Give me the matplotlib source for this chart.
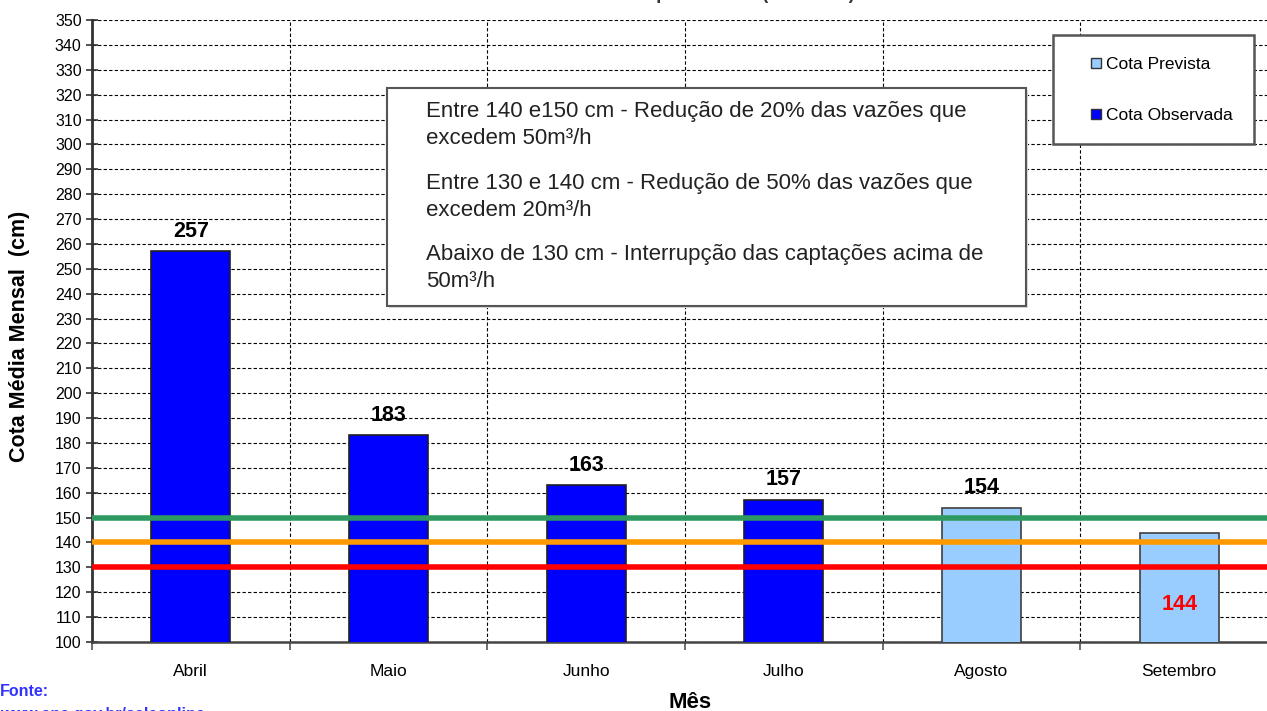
import matplotlib.pyplot as plt
from matplotlib.patches import Rectangle
from matplotlib.lines import Line2D

plt.rcParams['font.family'] = ['Liberation Sans', 'DejaVu Sans']

# dados
meses = ['Abril', 'Maio', 'Junho', 'Julho', 'Agosto', 'Setembro']
cota = [257, 183, 163, 157, 154, 144]
observada = [True, True, True, True, False, False]
limites = [150, 140, 130]
cores_limites = ['#2E9A62', '#FF9900', '#FF0000']
regras = [
    "Entre 140 e150 cm - Redução de 20% das vazões que\nexcedem 50m³/h",
    "Entre 130 e 140 cm - Redução de 50% das vazões que\nexcedem 20m³/h",
    "Abaixo de 130 cm - Interrupção das captações acima de\n50m³/h",
]

fig = plt.figure(figsize=(12.67, 7.11), dpi=100)
ax = fig.add_axes([92 / 1267, 1 - 642 / 711, (1278 - 92) / 1267, (642 - 20) / 711])

x = range(len(meses))
cor = ['#0000FF' if o else '#99CCFF' for o in observada]
borda = ['#202020' if o else '#404040' for o in observada]
ax.bar(x, cota, width=0.4, color=cor, edgecolor=borda, linewidth=1.2, zorder=3)

for yv, c in zip(limites, cores_limites):
    ax.axhline(yv, color=c, linewidth=4, zorder=4)

for i, v in enumerate(cota):
    if v < 150:
        ax.text(i, 115, str(v), color='#FF0000', fontsize=15.5, fontweight='bold',
                ha='center', va='center', zorder=5)
    else:
        ax.annotate(str(v), (i, v), xytext=(0, 7), textcoords='offset points',
                    ha='center', va='bottom', fontsize=15.5, fontweight='bold', zorder=5)

ax.set_xlim(-0.5, len(meses) - 0.5)
ax.set_ylim(100, 350)
ax.set_yticks(range(100, 351, 10))
ax.set_xticks(x)
ax.set_xticklabels(meses, fontsize=12.5)
ax.set_xticks([i - 0.5 for i in range(len(meses) + 1)], minor=True)
ax.tick_params(axis='y', labelsize=11.5, direction='inout', length=8, width=1.2, colors='#333333',
               labelcolor='black')
ax.tick_params(axis='x', which='major', length=0, pad=16)
ax.tick_params(axis='x', which='minor', direction='out', length=6, width=1.2, colors='#555555')

ax.grid(True, axis='y', linestyle=(0, (3, 2)), color='black', linewidth=0.8, zorder=0)
ax.grid(True, axis='x', which='minor', linestyle=(0, (3, 2)), color='black', linewidth=0.8, zorder=0)
ax.set_axisbelow(True)
for s in ['top', 'right']:
    ax.spines[s].set_visible(False)
ax.spines['left'].set_linewidth(2)
ax.spines['left'].set_color('#333333')
ax.spines['bottom'].set_linewidth(1.8)
ax.spines['bottom'].set_color('#444444')

fig.text(20 / 1267, 1 - 336 / 711, 'Cota Média Mensal  (cm)', fontsize=15.5, fontweight='bold',
         rotation=90, ha='center', va='center')
fig.text(690 / 1267, 1 - 703 / 711, 'Mês', fontsize=16, fontweight='bold', ha='center', va='center')

# caixa de regras
caixa = Rectangle((387 / 1267, 1 - 306 / 711), (1026 - 387) / 1267, (306 - 88) / 711,
                  transform=fig.transFigure, facecolor='white', edgecolor='#555555',
                  linewidth=1.5, zorder=6)
sombra = Rectangle((389 / 1267, 1 - 308 / 711), (1026 - 387) / 1267, (306 - 88) / 711,
                   transform=fig.transFigure, facecolor='#DDDDDD', edgecolor='none', zorder=5)
fig.patches.extend([sombra, caixa])
for k, txt in enumerate(regras):
    fig.text(426 / 1267, 1 - (101 + k * 71.5) / 711, txt, fontsize=16, va='top', ha='left',
             color='#222222', linespacing=1.38, zorder=7)

# legenda
handles = [
    Line2D([], [], marker='s', linestyle='none', markersize=7, markerfacecolor='#99CCFF',
           markeredgecolor='#333333', label='Cota Prevista'),
    Line2D([], [], marker='s', linestyle='none', markersize=7, markerfacecolor='#0000FF',
           markeredgecolor='#333333', label='Cota Observada'),
]
leg = fig.legend(handles=handles, loc='upper left', bbox_to_anchor=(1053 / 1267, 1 - 35 / 711),
                 fontsize=12.5, frameon=True, fancybox=False, shadow=False, framealpha=1,
                 labelspacing=2.05, handlelength=2.4, handletextpad=-0.6, borderpad=1.25,
                 borderaxespad=0)
leg.get_frame().set_edgecolor('#555555')
leg.get_frame().set_linewidth(1.8)
leg.set_zorder(8)

# titulo (cortado no topo) e fonte
fig.text(650 / 1267, 1.008, 'Rio Verde Grande em Capitão Enéas (44330000)', fontsize=13,
         fontweight='bold', ha='center', va='center', color='#333333')
fig.text(0.0, 1 - 691 / 711, 'Fonte:', fontsize=11.5, fontweight='bold', color='#3333FF',
         ha='left', va='center')
fig.text(0.0, 1 - 714 / 711, 'www.ana.gov.br/salaonline', fontsize=11.5, fontweight='bold',
         color='#3333FF', ha='left', va='center')

fig.savefig('out.png', dpi=100)
